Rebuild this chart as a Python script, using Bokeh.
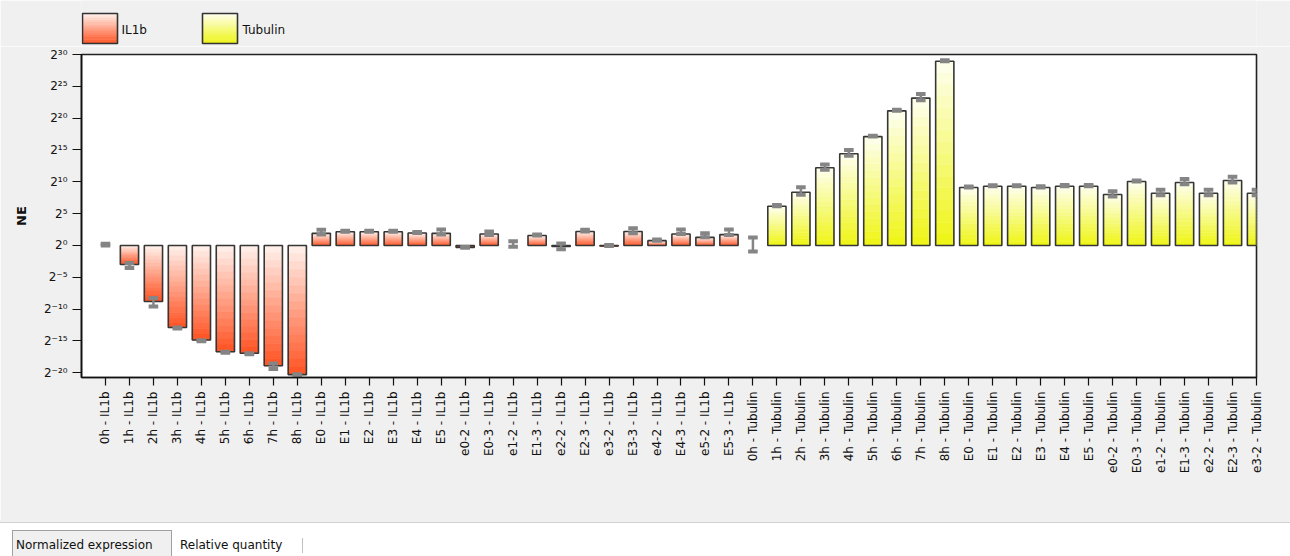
import numpy as np
from bokeh.plotting import figure
from bokeh.layouts import column
from bokeh.models import ColumnDataSource, FixedTicker, Range1d, Div
from bokeh.core.properties import value
from bokeh.embed import file_html
from bokeh.resources import INLINE

# ---------------- data (log2 normalized expression) ----------------
samples_il1b = ["0h", "1h", "2h", "3h", "4h", "5h", "6h", "7h", "8h",
                "E0", "E1", "E2", "E3", "E4", "E5",
                "e0-2", "E0-3", "e1-2", "E1-3", "e2-2", "E2-3", "e3-2",
                "E3-3", "e4-2", "E4-3", "e5-2", "E5-3"]
ne_il1b = [0.0, -3.0, -8.8, -12.9, -14.85, -16.7, -16.95, -18.9, -20.3,
           1.9, 2.15, 2.15, 2.15, 1.95, 1.9,
           -0.3, 1.8, 0.0, 1.55, -0.15, 2.2, -0.1,
           2.2, 0.75, 1.8, 1.27, 1.7]
lo_il1b = [0.0, -3.55, -9.6, -13.05, -15.05, -16.85, -17.1, -19.4, -20.4,
           1.7, 2.15, 2.15, 2.15, 1.95, 1.7,
           -0.35, 1.65, -0.2, 1.55, -0.6, 2.2, -0.1,
           1.9, 0.75, 1.8, 1.27, 1.65]
hi_il1b = [0.25, -2.75, -8.25, -12.9, -14.9, -16.7, -16.95, -18.55, -20.25,
           2.45, 2.3, 2.3, 2.3, 2.1, 2.5,
           -0.25, 2.2, 0.65, 1.7, 0.3, 2.45, 0.05,
           2.7, 0.95, 2.5, 1.9, 2.5]

samples_tub = ["0h", "1h", "2h", "3h", "4h", "5h", "6h", "7h", "8h",
               "E0", "E1", "E2", "E3", "E4", "E5",
               "e0-2", "E0-3", "e1-2", "E1-3", "e2-2", "E2-3", "e3-2"]
ne_tub = [0.0, 6.15, 8.35, 12.2, 14.4, 17.1, 21.15, 23.15, 28.95,
          9.1, 9.3, 9.3, 9.1, 9.3, 9.3,
          8.0, 10.05, 8.2, 9.9, 8.2, 10.2, 8.2]
lo_tub = [-0.95, 6.15, 7.95, 11.9, 14.1, 17.1, 21.15, 22.8, 28.95,
          9.1, 9.3, 9.3, 9.1, 9.3, 9.3,
          7.7, 10.05, 7.9, 9.6, 7.9, 9.9, 7.9]
hi_tub = [1.25, 6.35, 9.15, 12.7, 15.0, 17.25, 21.3, 23.8, 29.1,
          9.25, 9.45, 9.45, 9.3, 9.5, 9.5,
          8.5, 10.2, 8.75, 10.45, 8.75, 10.8, 8.75]

genes = ["IL1b", "Tubulin"]
y_ticks = [-20, -15, -10, -5, 0, 5, 10, 15, 20, 25, 30]
tab_names = ["Normalized expression", "Relative quantity"]

# ---------------- styles ----------------
FONT = "DejaVu Sans"
BG = "#f0f0f0"
light = {"IL1b": (255, 243, 238), "Tubulin": (255, 255, 240)}
dark = {"IL1b": (255, 82, 34), "Tubulin": (238, 245, 18)}

def mix(c0, c1, t):
    r = [int(round(a + (b - a) * t)) for a, b in zip(c0, c1)]
    return "#%02x%02x%02x" % tuple(r)

W = 1290
FL, FR = 81, 1256          # frame left / right in page pixels

# ---------------- legend strip (frame aligned with main chart) ----------------
leg = figure(width=W, height=46, output_backend="svg", toolbar_location=None,
             x_range=Range1d(FL, FR), y_range=Range1d(46, 0),
             x_axis_location=None, y_axis_location=None,
             min_border_left=FL, min_border_right=W - FR, min_border_top=0, min_border_bottom=0)
leg.xgrid.visible = False
leg.ygrid.visible = False
leg.outline_line_color = None
leg.background_fill_color = BG
leg.border_fill_color = BG

qx0, qx1, qt, qb, qc = [], [], [], [], []
tx, ty, tt = [], [], []
for g, x0, lx in ((genes[0], 82, 121), (genes[1], 202, 242)):
    nb = 14
    top, bot = 13, 43
    for k in range(nb):
        qx0.append(x0)
        qx1.append(x0 + 35)
        qt.append(top + (bot - top) * k / nb)
        qb.append(top + (bot - top) * (k + 1) / nb + 0.4)
        qc.append(mix(light[g], dark[g], (k + 0.5) / nb))
    tx.append(lx)
    ty.append(29)
    tt.append(g)
leg.quad(left="l", right="r", top="t", bottom="b", fill_color="c", line_color=None,
         source=ColumnDataSource(dict(l=qx0, r=qx1, t=qt, b=qb, c=qc)))
leg.quad(left=[82, 202], right=[117, 237], top=[13, 13], bottom=[43, 43],
         fill_alpha=0, line_color="#333333", line_width=1.6)
leg.text(x=tx, y=ty, text=tt, text_font=value(FONT), text_font_size="12px",
         text_baseline="middle", text_color="#111111")

# ---------------- main chart ----------------
labels = [f"{s} - IL1b" for s in samples_il1b] + [f"{s} - Tubulin" for s in samples_tub]
vals = ne_il1b + ne_tub
los = lo_il1b + lo_tub
his = hi_il1b + hi_tub
gene_of = ["IL1b"] * len(ne_il1b) + ["Tubulin"] * len(ne_tub)
xs = list(range(len(vals)))

p = figure(width=W, height=474, output_backend="svg", toolbar_location=None,
           x_range=Range1d(-1, len(vals) - 1), y_range=Range1d(-20.75, 30),
           min_border_left=FL, min_border_right=W - FR, min_border_top=8, min_border_bottom=143)
p.background_fill_color = "white"
p.border_fill_color = BG
p.outline_line_color = "#222222"
p.outline_line_width = 1.6
p.xgrid.visible = False
p.ygrid.visible = False

N = 16
gx, gb, gt, gc = [], [], [], []
for x, v, g in zip(xs, vals, gene_of):
    if v == 0:
        continue
    for k in range(N):
        a = v * k / N
        b = v * (k + 1) / N
        t = (k + 0.5) / N if v < 0 else 1 - (k + 0.5) / N
        gx.append(x)
        gb.append(min(a, b))
        gt.append(max(a, b))
        gc.append(mix(light[g], dark[g], t))
p.vbar(x="x", bottom="b", top="t", width=0.76, fill_color="c", line_color="c", line_width=0.6,
       source=ColumnDataSource(dict(x=gx, b=gb, t=gt, c=gc)))

outline_alpha = [0.0 if v == 0 else 1.0 for v in vals]
bars = ColumnDataSource(dict(x=xs, v=vals, lo=los, hi=his, a=outline_alpha))
p.vbar(x="x", bottom=0, top="v", width=0.76, fill_alpha=0, line_color="#363636",
       line_width=1.6, line_alpha="a", source=bars)

p.segment(x0="x", y0="lo", x1="x", y1="hi", line_color="#858585", line_width=2.5, source=bars)
p.rect(x="x", y="lo", width=0.4, height=4, height_units="screen", fill_color="#858585",
       line_color=None, source=bars)
p.rect(x="x", y="hi", width=0.4, height=4, height_units="screen", fill_color="#858585",
       line_color=None, source=bars)

SUP = str.maketrans("0123456789-", "⁰¹²³⁴⁵⁶⁷⁸⁹⁻")
p.yaxis.ticker = FixedTicker(ticks=y_ticks)
p.yaxis.major_label_overrides = {t: "2" + str(t).translate(SUP) for t in y_ticks}
p.yaxis.axis_label = "NE"
p.yaxis.axis_label_text_font = FONT
p.yaxis.axis_label_text_font_style = "bold"
p.yaxis.axis_label_text_font_size = "13px"
p.yaxis.axis_label_text_color = "#111111"
p.yaxis.axis_label_standoff = 12
p.yaxis.major_tick_out = 9
p.yaxis.major_tick_in = 0
p.yaxis.minor_tick_line_color = None
p.yaxis.major_label_standoff = 5

p.xaxis.ticker = FixedTicker(ticks=xs)
p.xaxis.major_label_overrides = {i: l for i, l in enumerate(labels)}
p.xaxis.major_label_orientation = np.pi / 2
p.xaxis.major_tick_out = 8
p.xaxis.major_tick_in = 0
p.xaxis.minor_tick_line_color = None
p.xaxis.major_label_standoff = 6

for ax in (p.xaxis[0], p.yaxis[0]):
    ax.axis_line_color = "#111111"
    ax.axis_line_width = 1.6
    ax.major_tick_line_color = "#111111"
    ax.major_tick_line_width = 1.2
    ax.major_label_text_font = FONT
    ax.major_label_text_font_size = "12px"
    ax.major_label_text_color = "#111111"

# ---------------- bottom tab strip (HTML) ----------------
tabs_html = f"""
<div style="position:relative;width:{W}px;height:36px;overflow:hidden;background:#ffffff;
            font-family:'{FONT}';font-size:12px;color:#111111;">
  <div style="position:absolute;left:0;top:0;width:{W}px;height:2px;background:{BG};"></div>
  <div style="position:absolute;left:0;top:2px;width:{W}px;height:1px;background:#d0d0d0;"></div>
  <div style="position:absolute;left:12px;top:10px;width:160px;height:40px;background:{BG};
              border:1px solid #a0a0a0;"></div>
  <div style="position:absolute;left:16px;top:17px;line-height:16px;white-space:nowrap;">{tab_names[0]}</div>
  <div style="position:absolute;left:180px;top:17px;line-height:16px;white-space:nowrap;">{tab_names[1]}</div>
  <div style="position:absolute;left:302px;top:18px;width:1px;height:15px;background:#c0c0c0;"></div>
</div>
"""
tabs = Div(text=tabs_html, width=W, height=36, margin=0)

layout = column(leg, p, tabs, spacing=0)
open("out.html", "w").write(file_html(layout, INLINE))
